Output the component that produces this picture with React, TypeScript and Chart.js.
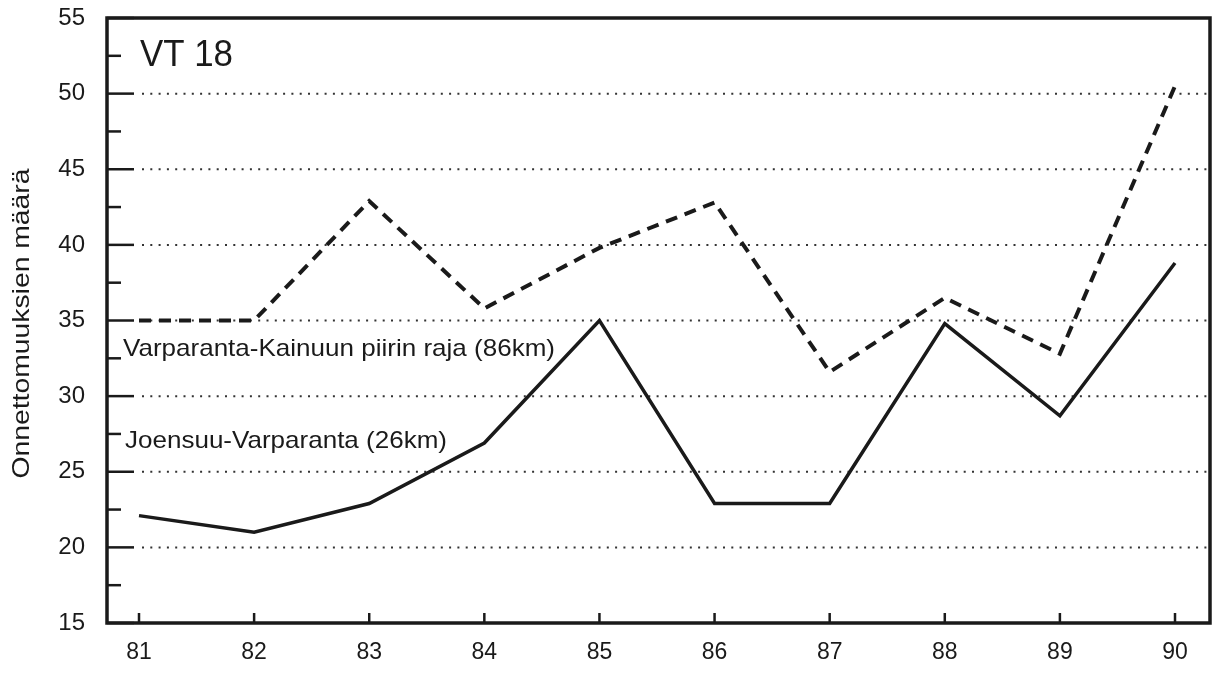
import React, { useEffect, useRef } from 'react';
import { Chart, registerables } from 'chart.js';

Chart.register(...registerables);

// ---- data ----
const years = [81, 82, 83, 84, 85, 86, 87, 88, 89, 90];
const varparantaKainuu = [35, 35, 42.9, 35.8, 39.8, 42.8, 31.6, 36.5, 32.8, 50.5];
const joensuuVarparanta = [22.1, 21.0, 22.9, 26.9, 35.0, 22.9, 22.9, 34.8, 28.7, 38.8];
const yTicks = [15, 20, 25, 30, 35, 40, 45, 50, 55];
const minorTicks = [17.5, 22.5, 27.5, 32.5, 37.5, 42.5, 47.5, 52.5];
const gridValues = [20, 25, 30, 35, 40, 45, 50];
const chartTitle = 'VT 18';
const yAxisTitle = 'Onnettomuuksien määrä';
const seriesLabels = ['Varparanta-Kainuun piirin raja (86km)', 'Joensuu-Varparanta (26km)'];

const INK = '#1a1a1a';
const FONT = '"Liberation Sans", Arial, Helvetica, sans-serif';

function fitText(ctx: CanvasRenderingContext2D, text: string, x: number, y: number, size: number, width: number) {
  ctx.save();
  ctx.font = `${size}px ${FONT}`;
  const w = ctx.measureText(text).width;
  ctx.translate(x, y);
  ctx.scale(width / w, 1);
  ctx.fillText(text, 0, 0);
  ctx.restore();
}

const decor = {
  id: 'decor',
  beforeDatasetsDraw(chart: any) {
    const { ctx, chartArea: a, scales } = chart;
    const x = scales.x;
    const y = scales.y;
    const seg = (x1: number, y1: number, x2: number, y2: number) => {
      ctx.beginPath();
      ctx.moveTo(x1, y1);
      ctx.lineTo(x2, y2);
      ctx.stroke();
    };
    ctx.save();
    ctx.strokeStyle = INK;
    ctx.setLineDash([]);
    ctx.lineWidth = 2.5;
    yTicks.forEach((v) => {
      const py = y.getPixelForValue(v);
      seg(a.left, py, a.left + 27, py);
    });
    minorTicks.forEach((v) => {
      const py = y.getPixelForValue(v);
      seg(a.left, py, a.left + 14, py);
    });
    years.forEach((v) => {
      const px = x.getPixelForValue(v);
      seg(px, a.bottom, px, a.bottom - 10);
    });
    ctx.strokeStyle = '#333';
    ctx.lineWidth = 2;
    ctx.setLineDash([2, 6.3]);
    gridValues.forEach((v) => {
      const py = y.getPixelForValue(v);
      seg(a.left + 35, py, a.right, py);
    });
    ctx.restore();
  },
  afterDraw(chart: any) {
    const { ctx, chartArea: a, scales } = chart;
    const y = scales.y;
    ctx.save();
    ctx.strokeStyle = INK;
    ctx.lineWidth = 3.5;
    ctx.setLineDash([]);
    ctx.strokeRect(a.left, a.top, a.right - a.left, a.bottom - a.top);
    ctx.fillStyle = INK;
    ctx.textAlign = 'left';
    ctx.textBaseline = 'alphabetic';
    fitText(ctx, chartTitle, 140, 66, 36, 93);
    fitText(ctx, seriesLabels[0], 123, y.getPixelForValue(32.65), 24, 432);
    fitText(ctx, seriesLabels[1], 125, y.getPixelForValue(26.6), 24, 322);
    // y-axis title
    ctx.save();
    ctx.font = `24px ${FONT}`;
    const w = ctx.measureText(yAxisTitle).width;
    ctx.translate(22, (a.top + a.bottom) / 2 + 3);
    ctx.rotate(-Math.PI / 2);
    ctx.scale(310 / w, 1);
    ctx.textAlign = 'center';
    ctx.textBaseline = 'middle';
    ctx.fillText(yAxisTitle, 0, 0);
    ctx.restore();
    ctx.restore();
  },
};

export default function App() {
  const ref = useRef<HTMLCanvasElement | null>(null);

  useEffect(() => {
    if (!ref.current) return;
    const chart = new Chart(ref.current, {
      type: 'line',
      data: {
        datasets: [
          {
            label: seriesLabels[0],
            data: years.map((yr, i) => ({ x: yr, y: varparantaKainuu[i] })),
            borderColor: INK,
            borderWidth: 4,
            borderDash: [12, 8],
            pointRadius: 0,
            tension: 0,
            fill: false,
          },
          {
            label: seriesLabels[1],
            data: years.map((yr, i) => ({ x: yr, y: joensuuVarparanta[i] })),
            borderColor: INK,
            borderWidth: 3.5,
            pointRadius: 0,
            tension: 0,
            fill: false,
            borderJoinStyle: 'miter',
          },
        ],
      },
      options: {
        animation: false,
        responsive: true,
        maintainAspectRatio: false,
        layout: { padding: { left: 0, top: 18, right: 9, bottom: 0 } },
        plugins: { legend: { display: false }, tooltip: { enabled: false } },
        scales: {
          x: {
            type: 'linear',
            min: 80.722,
            max: 90.304,
            grid: { display: false, drawTicks: false },
            border: { display: false },
            afterBuildTicks: (s: any) => {
              s.ticks = years.map((v) => ({ value: v }));
            },
            afterFit: (s: any) => {
              s.height = 51;
              s.paddingLeft = 0;
              s.paddingRight = 0;
            },
            ticks: {
              autoSkip: false,
              maxRotation: 0,
              padding: 16,
              color: INK,
              font: { family: FONT, size: 23 },
              callback: (v: any) => String(v),
            },
          },
          y: {
            type: 'linear',
            min: 15,
            max: 55,
            grid: { display: false, drawTicks: false },
            border: { display: false },
            afterBuildTicks: (s: any) => {
              s.ticks = yTicks.map((v) => ({ value: v }));
            },
            afterFit: (s: any) => {
              s.width = 107;
              s.paddingTop = 0;
              s.paddingBottom = 0;
            },
            ticks: {
              padding: 22,
              color: INK,
              font: { family: FONT, size: 24 },
              callback: (v: any) => String(v),
            },
          },
        },
      },
      plugins: [decor],
    } as any);
    return () => chart.destroy();
  }, []);

  return (
    <div style={{ position: 'fixed', left: 0, top: 0, width: 1219, height: 674, background: '#fff' }}>
      <canvas ref={ref} />
    </div>
  );
}
